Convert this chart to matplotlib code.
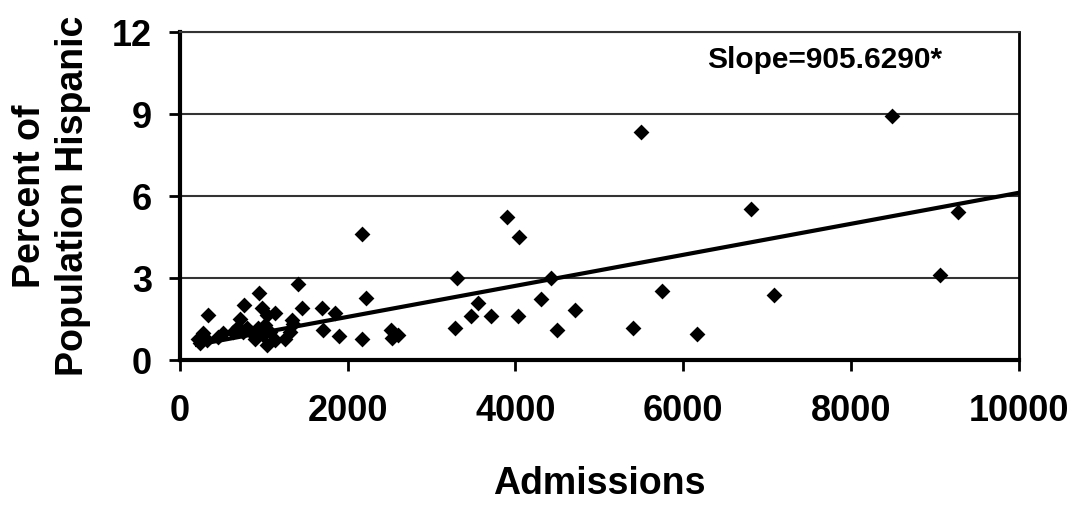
import numpy as np
import matplotlib
matplotlib.use("Agg")
import matplotlib.pyplot as plt

plt.rcParams['font.family'] = ['Liberation Sans', 'DejaVu Sans']
plt.rcParams['font.weight'] = 'bold'

# admissions vs percent hispanic
admissions = [218, 276, 236, 316, 335, 455, 514, 633, 693, 721, 753, 765, 793, 853,
              892, 932, 936, 972, 991, 1011, 1032, 1039, 1071, 1131, 1131, 1250,
              1310, 1333, 1349, 1409, 1449, 1687, 1699, 1846, 1897, 2164, 2172,
              2216, 2514, 2526, 2598, 3281, 3301, 3472, 3556, 3707, 3895, 4025,
              4044, 4300, 4422, 4494, 4705, 5404, 5492, 5746, 6167, 6811, 7086,
              8493, 9065, 9272]
pct_hispanic = [0.79, 0.98, 0.61, 0.73, 1.65, 0.85, 0.98, 1.04, 1.22, 1.50, 1.04, 2.02,
                1.16, 0.98, 0.79, 1.16, 2.44, 1.91, 0.91, 1.28, 0.55, 1.65, 1.04,
                0.73, 1.73, 0.79, 1.04, 1.46, 1.34, 2.80, 1.89, 1.89, 1.10, 1.73,
                0.90, 4.61, 0.78, 2.27, 1.10, 0.80, 0.91, 1.16, 3.00, 1.62, 2.10,
                1.62, 5.23, 1.62, 4.49, 2.22, 3.00, 1.10, 1.83, 1.16, 8.33, 2.54,
                0.95, 5.54, 2.40, 8.94, 3.12, 5.40]

# trend line
fit_intercept = 0.45
fit_slope = 0.000567
fit_x = [200, 10000]
slope_label = "Slope=905.6290*"

fig = plt.figure(figsize=(10.78, 5.08), dpi=100)
ax = fig.add_axes([0.167, 0.291, 0.778, 0.646])

ax.scatter(admissions, pct_hispanic, marker='D', s=65, color='black', zorder=3,
           linewidths=0)
fx = np.array(fit_x)
ax.plot(fx, fit_intercept + fit_slope * fx, color='black', lw=3, zorder=4)

ax.set_xlim(0, 10000)
ax.set_ylim(0, 12)
ax.set_xticks(np.arange(0, 10001, 2000))
ax.set_yticks(np.arange(0, 13, 3))
ax.yaxis.grid(True, color='#333333', lw=1.5)
ax.set_axisbelow(True)

for side in ['left', 'bottom']:
    ax.spines[side].set_linewidth(3)
ax.spines['right'].set_linewidth(2)
ax.spines['top'].set_linewidth(1.5)
ax.spines['top'].set_color('#333333')

ax.tick_params(axis='both', labelsize=26, width=2, length=8, direction='out')
ax.tick_params(axis='y', pad=12)
ax.tick_params(axis='x', pad=16)

ax.set_xlabel("Admissions", fontsize=27, fontweight='bold', labelpad=27)
ax.set_ylabel("Percent of\nPopulation Hispanic", fontsize=27, fontweight='bold',
              labelpad=15, linespacing=1.25)

ax.text(0.629, 0.915, slope_label, transform=ax.transAxes, fontsize=21.5,
        fontweight='bold', va='center', ha='left')

fig.savefig("out.png", dpi=100)
